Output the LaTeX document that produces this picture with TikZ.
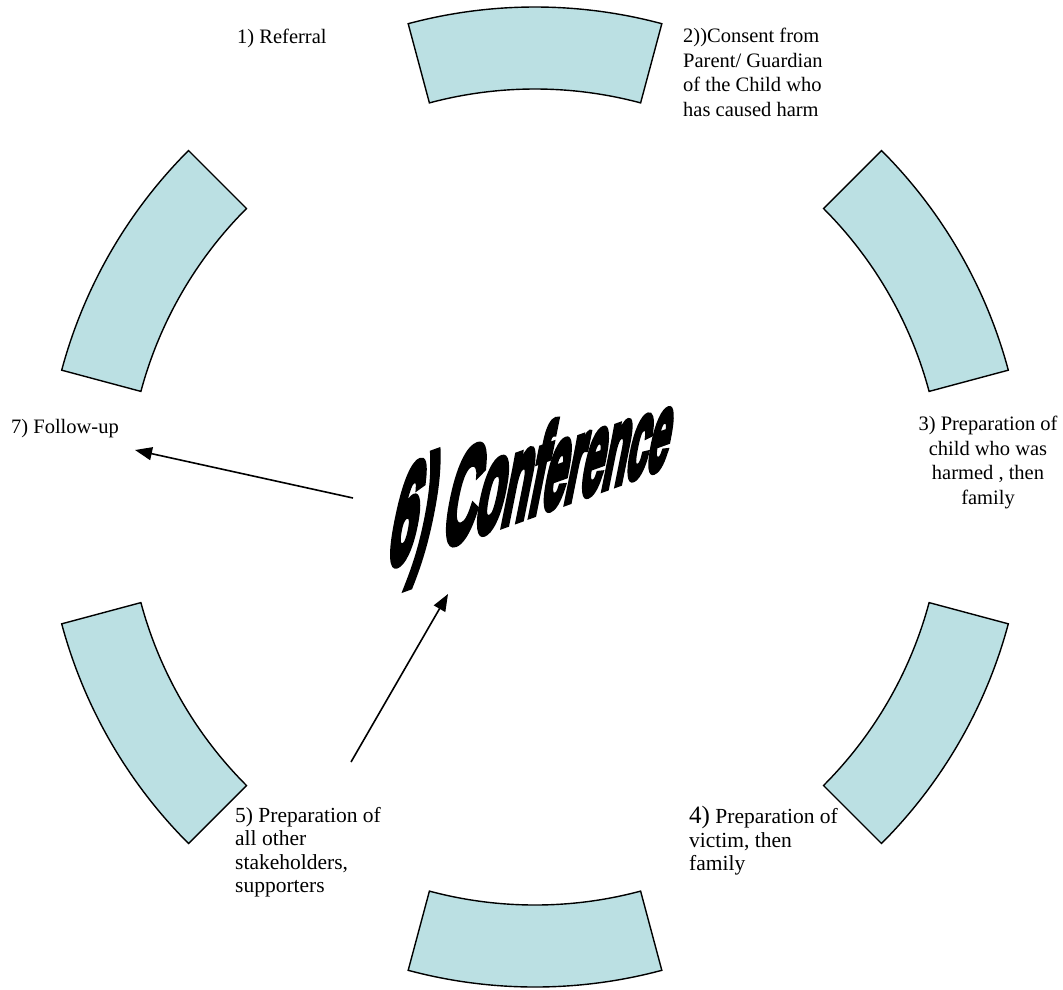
\documentclass[tikz,border=0pt]{standalone}
\usepackage{fontspec}
\setmainfont{Liberation Serif}
\newfontfamily\wordart{Liberation Sans Bold}[FakeBold=7]
\usetikzlibrary{arrows.meta,calc}
\definecolor{segfill}{HTML}{BBE0E3}
% one letter of the slanted title, at its own size
\newcommand\wl[2]{{\fontsize{#1}{#1}\selectfont #2}}

\begin{document}
\begin{tikzpicture}[x=1pt,y=1pt,
  seg/.style={fill=segfill,draw=black,line width=1.4pt,line join=miter},
  lbl/.style={inner sep=0pt,font=\fontsize{20.5}{24.5}\selectfont},
  biglbl/.style={inner sep=0pt,font=\fontsize{21.5}{23.5}\selectfont},
  flow/.style={line width=1.6pt,-{Triangle[length=17pt,width=13pt]}}]
\useasboundingbox (0,0) rectangle (1063,-989);

% ring of six stages
\coordinate (c) at (535,-497);
\foreach \t in {90,30,-30,-90,-150,150}{
  \filldraw[seg] ($(c)+(\t-15:490pt)$)
    arc[start angle=\t-15,end angle=\t+15,radius=490pt]
    -- ($(c)+(\t+15:408pt)$)
    arc[start angle=\t+15,end angle=\t-15,radius=408pt] -- cycle;
}

% stage labels
\node[lbl,anchor=base west] (referral) at (237,-43) {1) Referral};
\node[lbl,anchor=north west,align=left] (consent) at (683,-28)
  {2))Consent from\\Parent/ Guardian\\of the Child who\\has caused harm};
\node[lbl,anchor=north,align=center] (prepthree) at (988,-416)
  {3) Preparation of\\child who was\\harmed , then\\family};
\node[biglbl,anchor=north east,align=left] (prepfour) at (838,-806)
  {{\fontsize{25}{25}\selectfont 4)} Preparation of\\victim, then\\family};
\node[biglbl,anchor=north west,align=left] (prepfive) at (235,-807)
  {5) Preparation of\\all other\\stakeholders,\\supporters};
\node[lbl,anchor=base west] (followup) at (11,-433) {7) Follow-up};

% centre title, rising and shrinking to the right
\node[inner sep=0pt,anchor=base west,cm={0.334,0.120,0.2,1,(0,0)}] (conference) at (385,-567)
  {\wordart\wl{142}{6}\wl{142}{)}\wl{137}{\ }\wl{135}{C}\wl{132}{o}\wl{129}{n}\wl{126}{f}\wl{123}{e}\wl{120}{r}\wl{118}{e}\wl{116}{n}\wl{113}{c}\wl{111}{e}};

% arrows
\coordinate (titlewest) at (353,-498);
\coordinate (followtip) at (135,-450);
\coordinate (stakefoot) at (351,-762);
\coordinate (titletip) at (448,-594);
\draw[flow] (titlewest) -- (followtip);
\draw[flow] (stakefoot) -- (titletip);
\end{tikzpicture}
\end{document}
